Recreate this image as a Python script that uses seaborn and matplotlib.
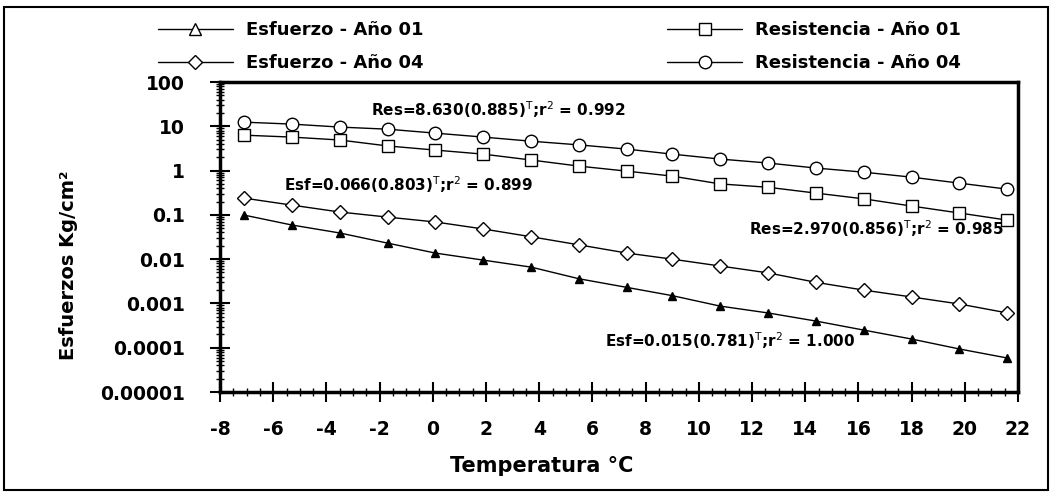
import numpy as np
import pandas as pd
import matplotlib
matplotlib.use("Agg")
import matplotlib.pyplot as plt
import seaborn as sns
from matplotlib.lines import Line2D
from matplotlib.patches import Rectangle
from matplotlib.ticker import FixedLocator, LogLocator, MultipleLocator, NullFormatter

# temperaturas (x) y valores
temperatura = [-7.1, -5.3, -3.5, -1.7, 0.1, 1.9, 3.7, 5.5, 7.3, 9.0, 10.8, 12.6, 14.4, 16.2, 18.0, 19.8, 21.6]
esf_01 = [0.099, 0.059, 0.039, 0.023, 0.0137, 0.0095, 0.0066, 0.0036, 0.0023, 0.0015,
          0.00087, 0.00061, 0.00040, 0.00025, 0.000157, 0.0000935, 0.0000585]
esf_04 = [0.239, 0.166, 0.116, 0.089, 0.069, 0.048, 0.032, 0.021, 0.0137, 0.010,
          0.0070, 0.0049, 0.0030, 0.0020, 0.0014, 0.00097, 0.00061]
res_01 = [6.3, 5.7, 4.9, 3.6, 2.9, 2.35, 1.73, 1.26, 0.97, 0.75,
          0.50, 0.42, 0.31, 0.23, 0.158, 0.11, 0.076]
res_04 = [12.4, 11.2, 9.6, 8.6, 7.0, 5.7, 4.6, 3.8, 3.05, 2.35,
          1.82, 1.48, 1.14, 0.92, 0.71, 0.52, 0.38]

etiquetas = ["Esfuerzo - Año 01", "Esfuerzo - Año 04", "Resistencia - Año 01", "Resistencia - Año 04"]
ecuaciones = ["Res=8.630(0.885)$^{\\mathrm{T}}$;r$^2$ = 0.992",
              "Esf=0.066(0.803)$^{\\mathrm{T}}$;r$^2$ = 0.899",
              "Res=2.970(0.856)$^{\\mathrm{T}}$;r$^2$ = 0.985",
              "Esf=0.015(0.781)$^{\\mathrm{T}}$;r$^2$ = 1.000"]
x_ticks = list(range(-8, 23, 2))
y_ticks = [0.00001, 0.0001, 0.001, 0.01, 0.1, 1, 10, 100]
y_labels = ["0.00001", "0.0001", "0.001", "0.01", "0.1", "1", "10", "100"]

sns.set_style("white")
plt.rcParams['font.family'] = ['DejaVu Sans']
plt.rcParams['text.color'] = 'black'
plt.rcParams['axes.labelcolor'] = 'black'

fig = plt.figure(figsize=(10.54, 4.94), dpi=100)
ax = fig.add_axes([220 / 1054, 1 - 392 / 494, (1018 - 220) / 1054, (392 - 82) / 494])

series = [(esf_01, '^', 'black', 6), (esf_04, 'D', 'white', 7),
          (res_01, 's', 'white', 8), (res_04, 'o', 'white', 9)]
for vals, mk, fc, ms in series:
    sns.lineplot(x=temperatura, y=vals, ax=ax, color='black', linewidth=1.0,
                 marker=mk, markersize=ms, markerfacecolor=fc, markeredgecolor='black',
                 markeredgewidth=1.0, legend=False)

ax.set_yscale('log')
ax.set_ylim(0.00001, 100)
ax.set_xlim(-8, 22)
ax.set_xticks(x_ticks)
ax.set_xticklabels([str(t) for t in x_ticks], fontsize=13.5, fontweight='bold')
ax.yaxis.set_major_locator(FixedLocator(y_ticks))
ax.set_yticklabels(y_labels, fontsize=13.5, fontweight='bold')
ax.yaxis.set_minor_locator(LogLocator(base=10, subs=np.arange(2, 10), numticks=20))
ax.yaxis.set_minor_formatter(NullFormatter())
ax.xaxis.set_minor_locator(MultipleLocator(0.5))

for s in ax.spines.values():
    s.set_linewidth(2.5)
    s.set_color('black')
ax.tick_params(axis='both', which='both', left=True, bottom=True, colors='black')
ax.tick_params(axis='both', which='major', direction='inout', length=14, width=1.5)
ax.tick_params(axis='both', which='minor', direction='inout', length=6, width=1.0)
ax.tick_params(axis='x', which='major', pad=13)
ax.tick_params(axis='y', which='major', pad=18)

ax.set_ylabel("Esfuerzos Kg/cm²", fontsize=14, fontweight='bold', color='black')
ax.set_xlabel("Temperatura °C", fontsize=15, fontweight='bold', color='black')
ax.xaxis.set_label_coords((542 - 220) / (1018 - 220), -0.205)
ax.yaxis.set_label_coords(-0.178, 0.41)

# ecuaciones de ajuste
pos = [(2.45, 24), (-0.93, 0.47), (16.66, 0.050), (11.17, 0.000148)]
for (tx, ty), eq in zip(pos, ecuaciones):
    ax.text(tx, ty, eq, ha='center', va='center', fontsize=11, fontweight='bold', color='black')

handles = [
    Line2D([], [], color='black', lw=1, marker='^', ms=8, mfc='white', mec='black'),
    Line2D([], [], color='black', lw=1, marker='D', ms=7, mfc='white', mec='black'),
    Line2D([], [], color='black', lw=1, marker='s', ms=8, mfc='white', mec='black'),
    Line2D([], [], color='black', lw=1, marker='o', ms=9, mfc='white', mec='black'),
]
fig.legend(handles, etiquetas, ncol=2, loc='upper left', bbox_to_anchor=(158 / 1054, 1 - 21 / 494),
           frameon=False, prop={'size': 13, 'weight': 'bold'}, handlelength=4.15, handletextpad=0.72,
           columnspacing=13.5, labelspacing=0.85, borderpad=0, borderaxespad=0, labelcolor='black')

fig.patches.append(Rectangle((0.004, 0.008), 0.990, 0.978, transform=fig.transFigure,
                             fill=False, edgecolor='black', linewidth=1.5))

fig.savefig("out.png", dpi=100, facecolor='white')
